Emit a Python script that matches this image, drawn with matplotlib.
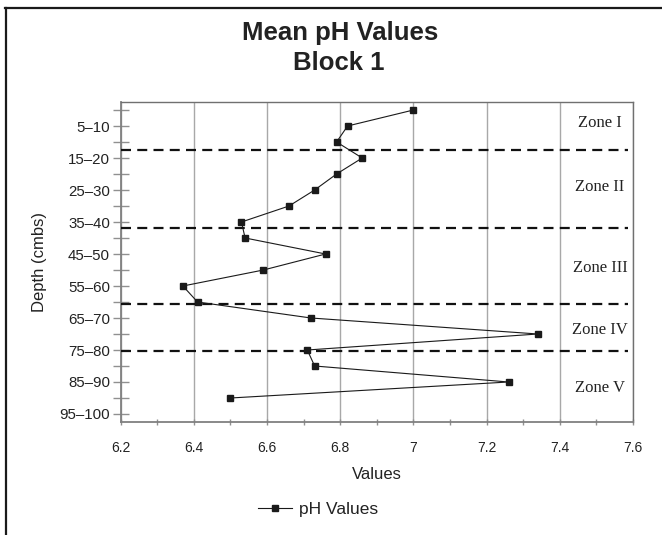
import matplotlib
matplotlib.use("Agg")
import matplotlib.pyplot as plt
from matplotlib.lines import Line2D

plt.rcParams['font.family'] = ['Liberation Sans', 'DejaVu Sans']
plt.rcParams['lines.scale_dashes'] = False

depths = ["0–5", "5–10", "10–15", "15–20", "20–25", "25–30", "30–35", "35–40",
          "40–45", "45–50", "50–55", "55–60", "60–65", "65–70", "70–75", "75–80",
          "80–85", "85–90", "90–95", "95–100"]
ph_values = [7.00, 6.82, 6.79, 6.86, 6.79, 6.73, 6.66, 6.53, 6.54, 6.76,
             6.59, 6.37, 6.41, 6.72, 7.34, 6.71, 6.73, 7.26, 6.50]
zone_names = ["Zone I", "Zone II", "Zone III", "Zone IV", "Zone V"]
zone_label_pos = [0.8, 4.8, 9.85, 13.75, 17.35]
zone_boundaries = [2.5, 7.35, 12.1, 15.05]
x_ticks = [6.2, 6.4, 6.6, 6.8, 7.0, 7.2, 7.4, 7.6]
x_tick_labels = ["6.2", "6.4", "6.6", "6.8", "7", "7.2", "7.4", "7.6"]

W, H = 662, 535
fig = plt.figure(figsize=(W / 100, H / 100), dpi=100)
ax = fig.add_axes([120.7 / W, 1 - 422 / H, (633 - 120.7) / W, (422 - 102) / H])

ypos = list(range(len(depths)))
ax.plot(ph_values, ypos[:len(ph_values)], color='#1a1a1a', lw=0.8,
        marker='s', markersize=4.5, markerfacecolor='#1a1a1a',
        markeredgecolor='#1a1a1a', label='pH Values', zorder=4)

for yb in zone_boundaries:
    ax.plot([6.2, 7.585], [yb, yb], color='#111111', lw=1.6,
            linestyle=(0, (7.2, 4.5)), zorder=3)

for name, yp in zip(zone_names, zone_label_pos):
    ax.text(7.51, yp, name, ha='center', va='center',
            fontfamily='Liberation Serif', fontsize=12, color='#222222')

ax.set_xlim(6.2, 7.6)
ax.set_ylim(19.5, -0.5)
ax.set_xticks(x_ticks)
ax.set_xticklabels(x_tick_labels)
ax.set_xticks([6.3, 6.5, 6.7, 6.9, 7.1, 7.3, 7.5], minor=True)
ax.set_yticks(ypos)
ax.set_yticklabels([d if i % 2 == 1 else "" for i, d in enumerate(depths)])

ax.grid(axis='x', which='major', color='#a8a8a8', lw=1.0, zorder=0)
ax.set_axisbelow(True)

ax.tick_params(axis='x', which='both', direction='inout', length=5,
               color='#909090', width=1, labelsize=10, labelcolor='#222222', pad=11)
ax.tick_params(axis='y', which='major', direction='inout', length=11.5,
               color='#909090', width=1, labelsize=10.8, labelcolor='#222222', pad=2)

for s in ['left', 'bottom']:
    ax.spines[s].set_color('#808080')
    ax.spines[s].set_linewidth(1.3)
for s in ['top', 'right']:
    ax.spines[s].set_color('#707070')
    ax.spines[s].set_linewidth(1.0)

ax.set_xlabel("Values", fontsize=12, color='#222222', labelpad=9)
ax.set_ylabel("Depth (cmbs)", fontsize=12, color='#222222', labelpad=9)

fig.text(340 / W, 1 - 40 / H, "Mean pH Values", ha='center', va='baseline',
         fontsize=18.5, fontweight='bold', color='#222222')
fig.text(339 / W, 1 - 70 / H, "Block 1", ha='center', va='baseline',
         fontsize=18.5, fontweight='bold', color='#222222')

fig.legend(loc='center', bbox_to_anchor=(318 / W, 1 - 509 / H), frameon=False,
           fontsize=12.5, handlelength=2.0, handletextpad=0.4,
           labelcolor='#222222')

fig.add_artist(Line2D([5 / W, 1.0], [1 - 8 / H, 1 - 8 / H], color='#1a1a1a',
                      lw=1.6, transform=fig.transFigure))
fig.add_artist(Line2D([6 / W, 6 / W], [1 - 8 / H, 0.0], color='#1a1a1a',
                      lw=1.6, transform=fig.transFigure))

fig.savefig("out.png", dpi=100)
